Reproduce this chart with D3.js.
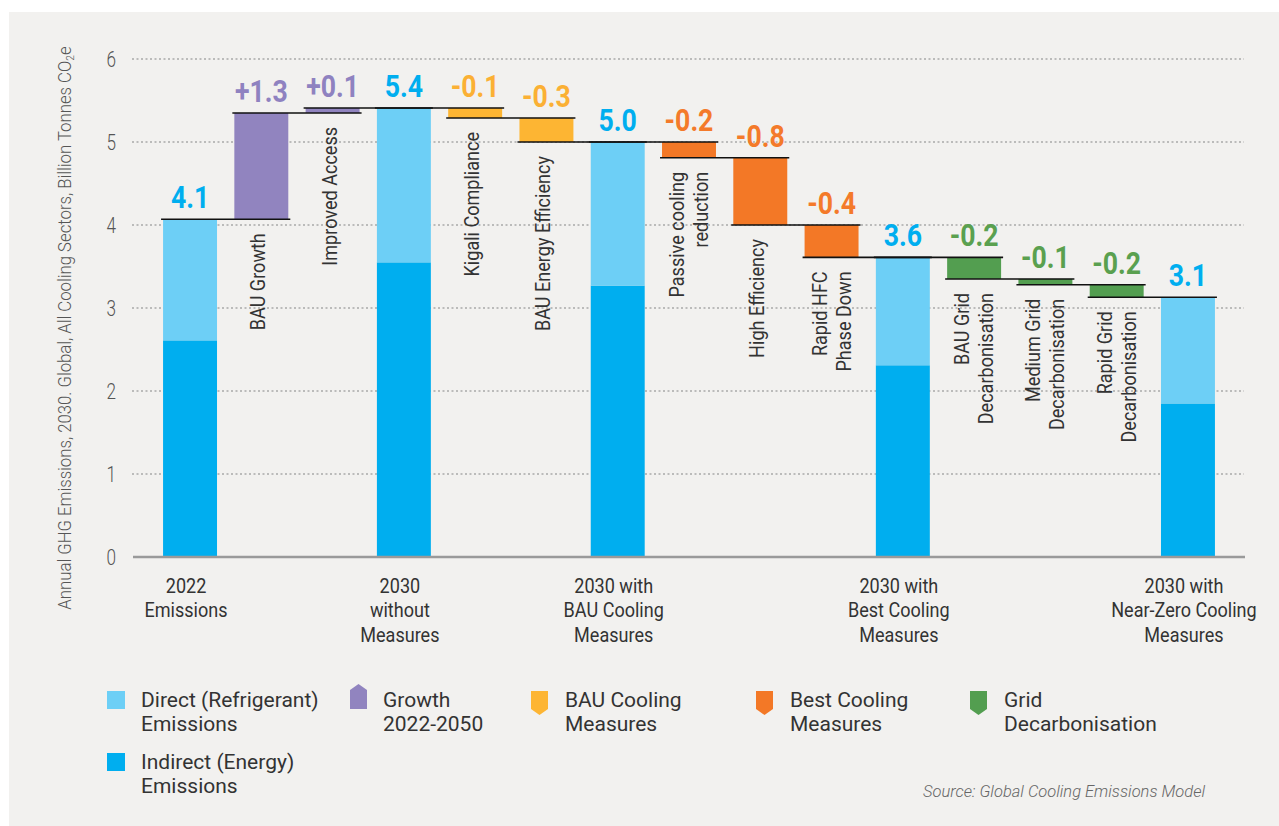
<!DOCTYPE html>
<html>
<head>
<meta charset="utf-8">
<script src="https://cdn.jsdelivr.net/npm/d3@7"></script>
<style>
  html, body { margin: 0; padding: 0; background: #fff; }
  svg { display: block; font-family: Roboto, "Noto Sans", sans-serif; }
</style>
</head>
<body>
<script>
// categories along the x axis (\n = line break)
var categories = [
  "2022\nEmissions", "BAU Growth", "Improved Access", "2030\nwithout\nMeasures",
  "Kigali Compliance", "BAU Energy Efficiency", "2030 with\nBAU Cooling\nMeasures",
  "Passive cooling\nreduction", "High Efficiency", "Rapid HFC\nPhase Down",
  "2030 with\nBest Cooling\nMeasures", "BAU Grid\nDecarbonisation",
  "Medium Grid\nDecarbonisation", "Rapid Grid\nDecarbonisation",
  "2030 with\nNear-Zero Cooling\nMeasures"
]
var kinds = ["total", "growth", "growth", "total", "bau", "bau", "total",
  "best", "best", "best", "total", "grid", "grid", "grid", "total"]

// stacked totals (billion tonnes CO2e)
var indirectValues = [2.61, 0, 0, 3.55, 0, 0, 3.27, 0, 0, 0, 2.31, 0, 0, 0, 1.85]
var directValues   = [1.46, 0, 0, 1.86, 0, 0, 1.73, 0, 0, 0, 1.30, 0, 0, 0, 1.28]
// waterfall steps
var changeValues = [0, 1.28, 0.06, 0, -0.12, -0.29, 0, -0.19, -0.81, -0.39, 0, -0.26, -0.07, -0.15, 0]
var valueLabels = ["4.1", "+1.3", "+0.1", "5.4", "-0.1", "-0.3", "5.0", "-0.2",
  "-0.8", "-0.4", "3.6", "-0.2", "-0.1", "-0.2", "3.1"]

var yTicks = [0, 1, 2, 3, 4, 5, 6]

var legendItems = [
  {key: "direct", label: "Direct (Refrigerant)\nEmissions"},
  {key: "growth", label: "Growth\n2022-2050"},
  {key: "bau", label: "BAU Cooling\nMeasures"},
  {key: "best", label: "Best Cooling\nMeasures"},
  {key: "grid", label: "Grid\nDecarbonisation"},
  {key: "indirect", label: "Indirect (Energy)\nEmissions"}
]

var colors = {
  direct: "#6dcff6", indirect: "#00aeef", growth: "#9184bf",
  bau: "#fdb533", best: "#f37826", grid: "#539e50"
}
var labelColors = {
  total: "#00aeef", growth: "#8f82c0", bau: "#fbb034", best: "#f47a2a", grid: "#5aa04f"
}

var W = 1279, H = 826
var svg = d3.select("body").append("svg").attr("width", W).attr("height", H)

svg.append("rect").attr("x", 9).attr("y", 12).attr("width", W - 9).attr("height", H - 12)
  .attr("fill", "#f2f1ef")

var x = d3.scaleBand().domain(d3.range(categories.length))
  .range([154.4, 1223.6]).paddingInner(0.243).paddingOuter(0.1215)
var y = d3.scaleLinear().domain([0, 6]).range([557, 59])
var bw = x.bandwidth()

// running levels for the waterfall
var steps = []
var level = 0
categories.forEach(function(c, i) {
  if (kinds[i] == "total") {
    level = indirectValues[i] + directValues[i]
    steps.push({i: i, start: 0, end: level})
  } else {
    var s = level
    level = level + changeValues[i]
    steps.push({i: i, start: s, end: level})
  }
})

// condensed-ish text helper
function ctext(g, tx, ty, rot, sx) {
  return g.append("text")
    .attr("transform", "translate(" + tx + "," + ty + ") rotate(" + rot + ") scale(" + sx + ",1)")
}
function addLines(t, str, lh, first) {
  str.split("\n").forEach(function(line, k) {
    t.append("tspan").attr("x", 0).attr("y", first + k * lh).text(line)
  })
}

// gridlines
svg.append("g").selectAll("line").data(yTicks.filter(function(d) { return d > 0 }))
  .enter().append("line")
  .attr("x1", 132).attr("x2", 1244)
  .attr("y1", function(d) { return y(d) }).attr("y2", function(d) { return y(d) })
  .attr("stroke", "#a9a9a9").attr("stroke-width", 1.5).attr("stroke-dasharray", "2,2.5")

// y tick labels
var tickG = svg.append("g")
yTicks.forEach(function(d) {
  ctext(tickG, 116, y(d), 0, 0.78).text(d)
    .attr("text-anchor", "end").attr("dy", "0.36em")
    .attr("font-size", 22).attr("font-weight", 300).attr("fill", "#555")
})

// y title
var yt = ctext(svg, 71, 328, -90, 0.93)
  .attr("text-anchor", "middle").attr("font-size", 18).attr("font-weight", 300).attr("fill", "#555")
yt.append("tspan").text("Annual GHG Emissions, 2030. Global, All Cooling Sectors, Billion Tonnes CO")
yt.append("tspan").attr("font-size", 11).attr("dy", 3).text("2")
yt.append("tspan").attr("dy", -3).text("e")

// bars
var barG = svg.append("g")
steps.forEach(function(s) {
  var i = s.i
  if (kinds[i] == "total") {
    barG.append("rect").attr("x", x(i)).attr("width", bw)
      .attr("y", y(indirectValues[i])).attr("height", y(0) - y(indirectValues[i]))
      .attr("fill", colors.indirect)
    barG.append("rect").attr("x", x(i)).attr("width", bw)
      .attr("y", y(s.end)).attr("height", y(indirectValues[i]) - y(s.end))
      .attr("fill", colors.direct)
  } else {
    var top = Math.max(s.start, s.end), bot = Math.min(s.start, s.end)
    barG.append("rect").attr("x", x(i)).attr("width", bw)
      .attr("y", y(top)).attr("height", y(bot) - y(top))
      .attr("fill", colors[kinds[i]])
  }
})

// axis line
svg.append("line").attr("x1", 133).attr("x2", 1245).attr("y1", y(0)).attr("y2", y(0))
  .attr("stroke", "#9a9a9a").attr("stroke-width", 2.5)

// connectors
steps.slice(0, -1).forEach(function(s) {
  svg.append("line")
    .attr("x1", x(s.i) - 2).attr("x2", x(s.i + 1) + bw + 2)
    .attr("y1", y(s.end)).attr("y2", y(s.end))
    .attr("stroke", "#111").attr("stroke-width", 1.6)
})

// value labels
steps.forEach(function(s) {
  var k = kinds[s.i]
  ctext(svg, x(s.i) + bw / 2, y(Math.max(s.start, s.end)) - 11, 0, 0.86)
    .attr("text-anchor", "middle").attr("font-size", 31).attr("font-weight", 700)
    .attr("fill", labelColors[k]).text(valueLabels[s.i])
})

// category labels
steps.forEach(function(s) {
  var i = s.i, cx = x(i) + bw / 2
  if (kinds[i] == "total") {
    var t = ctext(svg, cx - 4, 593, 0, 0.86)
      .attr("text-anchor", "middle").attr("font-size", 21).attr("fill", "#333")
    addLines(t, categories[i], 24.5, 0)
  } else {
    var n = categories[i].split("\n").length
    var t2 = ctext(svg, cx, y(Math.min(s.start, s.end)) + 14, -90, 0.86)
      .attr("text-anchor", "end").attr("font-size", 21).attr("fill", "#333")
    addLines(t2, categories[i], 24, n == 1 ? 4 : -5)
  }
})

// legend
var legPos = [[107, 691], [350, 691], [531, 691], [756, 691], [970, 691], [107, 753]]
var textX = [141, 383, 565, 790, 1004, 141]
legendItems.forEach(function(d, k) {
  var px = legPos[k][0], py = legPos[k][1]
  var g = svg.append("g")
  if (d.key == "direct" || d.key == "indirect") {
    g.append("rect").attr("x", px).attr("y", py).attr("width", 18).attr("height", 18)
      .attr("fill", colors[d.key])
  } else if (d.key == "growth") {
    g.append("path").attr("d", "M" + px + "," + (py - 1) + "L" + (px + 8.5) + "," + (py - 7) +
      "L" + (px + 17) + "," + (py - 1) + "L" + (px + 17) + "," + (py + 18) + "L" + px + "," + (py + 18) + "Z")
      .attr("fill", colors[d.key])
  } else {
    g.append("path").attr("d", "M" + px + "," + py + "L" + (px + 17) + "," + py +
      "L" + (px + 17) + "," + (py + 18) + "L" + (px + 8.5) + "," + (py + 24) + "L" + px + "," + (py + 18) + "Z")
      .attr("fill", colors[d.key])
  }
  var t = g.append("text").attr("transform", "translate(" + textX[k] + "," + (py + 16) + ")")
    .attr("font-size", 21).attr("fill", "#333")
  addLines(t, d.label, 24, 0)
})

// source
ctext(svg, 1205, 797, 0, 0.97).attr("text-anchor", "end")
  .attr("font-size", 17).attr("font-style", "italic").attr("font-weight", 300)
  .attr("fill", "#666").text("Source: Global Cooling Emissions Model")
</script>
</body>
</html>
